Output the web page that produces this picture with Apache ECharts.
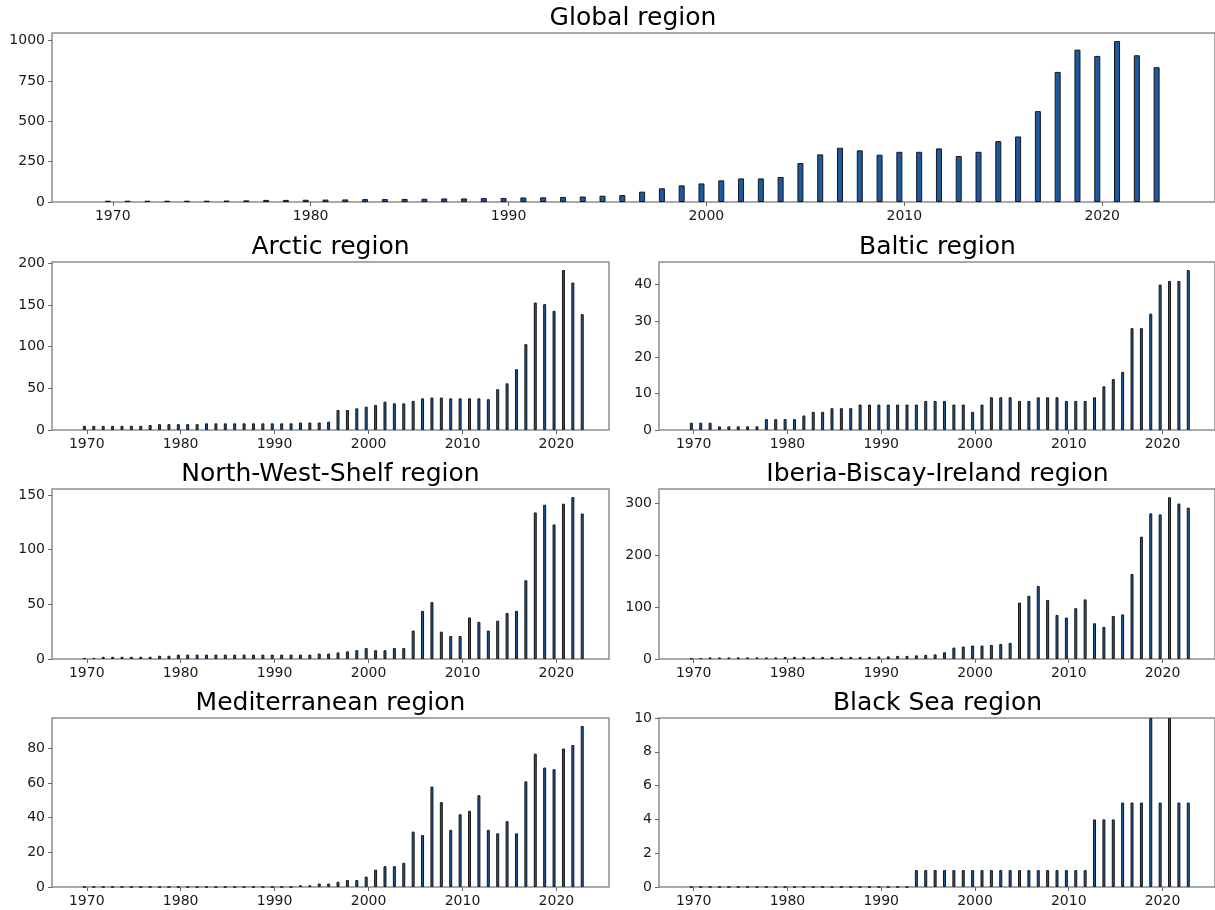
<!DOCTYPE html>
<html>
<head>
<meta charset="utf-8">
<title>Regional counts per year</title>
<script src="https://cdn.jsdelivr.net/npm/echarts@6/dist/echarts.min.js"></script>
<style>
  html, body { margin: 0; padding: 0; background: #fff; }
  #chart { width: 1215px; height: 910px; }
</style>
</head>
<body>
<div id="chart"></div>
<script>
(function () {
  'use strict';

  // ---- data (one value per year, 1970..2023) ----
  const YEARS = [
    1970, 1971, 1972, 1973, 1974, 1975, 1976, 1977, 1978, 1979,
    1980, 1981, 1982, 1983, 1984, 1985, 1986, 1987, 1988, 1989,
    1990, 1991, 1992, 1993, 1994, 1995, 1996, 1997, 1998, 1999,
    2000, 2001, 2002, 2003, 2004, 2005, 2006, 2007, 2008, 2009,
    2010, 2011, 2012, 2013, 2014, 2015, 2016, 2017, 2018, 2019,
    2020, 2021, 2022, 2023,
  ];

  const GLOBAL = [
    8, 8, 8, 8, 8, 8, 9, 10, 13, 13,
    14, 15, 16, 18, 18, 19, 20, 22, 22, 24,
    25, 28, 29, 31, 34, 39, 43, 64, 85, 103,
    115, 134, 146, 146, 155, 241, 295, 336, 320, 293,
    311, 311, 332, 285, 311, 377, 406, 563, 806, 944,
    905, 997, 909, 835,
  ];
  const ARCTIC = [
    5, 5, 5, 5, 5, 5, 5, 6, 7, 7,
    7, 7, 7, 8, 8, 8, 8, 8, 8, 8,
    8, 8, 8, 9, 9, 9, 10, 24, 24, 26,
    28, 30, 34, 32, 32, 35, 38, 39, 39, 38,
    38, 38, 38, 37, 49, 56, 73, 103, 153, 151,
    143, 192, 177, 139,
  ];
  const BALTIC = [
    2, 2, 2, 1, 1, 1, 1, 1, 3, 3,
    3, 3, 4, 5, 5, 6, 6, 6, 7, 7,
    7, 7, 7, 7, 7, 8, 8, 8, 7, 7,
    5, 7, 9, 9, 9, 8, 8, 9, 9, 9,
    8, 8, 8, 9, 12, 14, 16, 28, 28, 32,
    40, 41, 41, 44,
  ];
  const NW_SHELF = [
    1, 1, 2, 2, 2, 2, 2, 2, 3, 3,
    4, 4, 4, 4, 4, 4, 4, 4, 4, 4,
    4, 4, 4, 4, 4, 5, 5, 6, 7, 8,
    10, 8, 8, 10, 10, 26, 44, 52, 25, 21,
    21, 38, 34, 26, 35, 42, 44, 72, 134, 141,
    123, 142, 148, 133,
  ];
  const IBERIA = [
    1, 2, 3, 3, 3, 3, 3, 3, 3, 3,
    4, 4, 4, 4, 4, 4, 4, 4, 4, 4,
    5, 5, 6, 6, 7, 8, 9, 13, 22, 24,
    26, 26, 27, 29, 31, 109, 122, 141, 114, 85,
    80, 98, 115, 69, 62, 83, 86, 164, 236, 281,
    279, 312, 300, 292,
  ];
  const MEDIT = [
    0, 0, 0, 0, 0, 0, 0, 0, 0, 0,
    0, 0, 0, 0, 0, 0, 0, 0, 0, 0,
    0, 0, 0, 1, 1, 2, 2, 3, 4, 4,
    6, 10, 12, 12, 14, 32, 30, 58, 49, 33,
    42, 44, 53, 33, 31, 38, 31, 61, 77, 69,
    68, 80, 82, 93,
  ];
  const BLACK_SEA = [
    0, 0, 0, 0, 0, 0, 0, 0, 0, 0,
    0, 0, 0, 0, 0, 0, 0, 0, 0, 0,
    0, 0, 0, 0, 1, 1, 1, 1, 1, 1,
    1, 1, 1, 1, 1, 1, 1, 1, 1, 1,
    1, 1, 1, 4, 4, 4, 5, 5, 5, 10,
    5, 10, 5, 5,
  ];

  const X_TICKS = [1970, 1980, 1990, 2000, 2010, 2020];
  const Y_TICKS_GLOBAL = [0, 250, 500, 750, 1000];
  const Y_TICKS_ARCTIC = [0, 50, 100, 150, 200];
  const Y_TICKS_BALTIC = [0, 10, 20, 30, 40];
  const Y_TICKS_NWS = [0, 50, 100, 150];
  const Y_TICKS_IBERIA = [0, 100, 200, 300];
  const Y_TICKS_MEDIT = [0, 20, 40, 60, 80];
  const Y_TICKS_BLACK = [0, 2, 4, 6, 8, 10];

  // ---- layout / style ----
  const FONT = 'DejaVu Sans';
  const BAR_FILL = '#1b5a9e';
  const BAR_EDGE = '#161616';
  const SPINE = '#8d8d8d';
  const BAR_SHIFT = -0.25;   // bars sit slightly left of the year tick in the original

  const COL_L = 52, COL_R = 659, COL_W = 557;
  const PANELS = [
    { title: 'Global region',                vals: GLOBAL,    yt: Y_TICKS_GLOBAL, ymax: 1047, left: COL_L, top: 33,  w: 1170, h: 169, xmin: 1966.93, xmax: 2025.7, bw: 6, tx: 633 },
    { title: 'Arctic region',                vals: ARCTIC,    yt: Y_TICKS_ARCTIC, ymax: 201.6, left: COL_L, top: 262, w: COL_W, h: 168 },
    { title: 'Baltic region',                vals: BALTIC,    yt: Y_TICKS_BALTIC, ymax: 46.2,  left: COL_R, top: 262, w: COL_W, h: 168 },
    { title: 'North-West-Shelf region',      vals: NW_SHELF,  yt: Y_TICKS_NWS,    ymax: 155.4, left: COL_L, top: 489, w: COL_W, h: 170 },
    { title: 'Iberia-Biscay-Ireland region', vals: IBERIA,    yt: Y_TICKS_IBERIA, ymax: 328,   left: COL_R, top: 489, w: COL_W, h: 170 },
    { title: 'Mediterranean region',         vals: MEDIT,     yt: Y_TICKS_MEDIT,  ymax: 97.6,  left: COL_L, top: 718, w: COL_W, h: 169 },
    { title: 'Black Sea region',             vals: BLACK_SEA, yt: Y_TICKS_BLACK,  ymax: 10,    left: COL_R, top: 718, w: COL_W, h: 169 },
  ];

  const labelStyle = { color: '#1a1a1a', fontFamily: FONT, fontSize: 14 };

  const option = {
    animation: false,
    backgroundColor: '#fff',
    title: [], grid: [], xAxis: [], yAxis: [], series: [],
  };

  PANELS.forEach((p, i) => {
    const xmin = p.xmin != null ? p.xmin : 1966.3;
    const xmax = p.xmax != null ? p.xmax : 2025.6;
    option.title.push({
      text: p.title, left: p.tx != null ? p.tx : p.left + p.w / 2, top: p.top - 27,
      textAlign: 'center', padding: 0,
      textStyle: { fontFamily: FONT, fontSize: 25, fontWeight: 'normal', color: '#000' },
    });
    option.grid.push({
      left: p.left, top: p.top, width: p.w, height: p.h,
      show: true, borderColor: SPINE, borderWidth: 1.5, containLabel: false,
    });
    option.xAxis.push({
      type: 'value', gridIndex: i, min: xmin, max: xmax,
      splitLine: { show: false }, axisLine: { show: false },
      axisTick: { show: true, length: 4, lineStyle: { color: '#666' }, customValues: X_TICKS },
      axisLabel: Object.assign({ margin: 7, customValues: X_TICKS, formatter: v => String(v) }, labelStyle),
    });
    option.yAxis.push({
      type: 'value', gridIndex: i, min: 0, max: p.ymax,
      splitLine: { show: false }, axisLine: { show: false },
      axisTick: { show: true, length: 4, lineStyle: { color: '#666' }, customValues: p.yt },
      axisLabel: Object.assign({ margin: 7, customValues: p.yt, formatter: v => String(v) }, labelStyle),
    });
    option.series.push({
      type: 'bar', xAxisIndex: i, yAxisIndex: i,
      barWidth: p.bw || 3,
      itemStyle: { color: BAR_FILL, borderColor: BAR_EDGE, borderWidth: 1 },
      data: YEARS.map((y, k) => [y + BAR_SHIFT, p.vals[k]]),
    });
  });

  const chart = echarts.init(document.getElementById('chart'), null, { renderer: 'canvas' });
  chart.setOption(option);
})();
</script>
</body>
</html>
